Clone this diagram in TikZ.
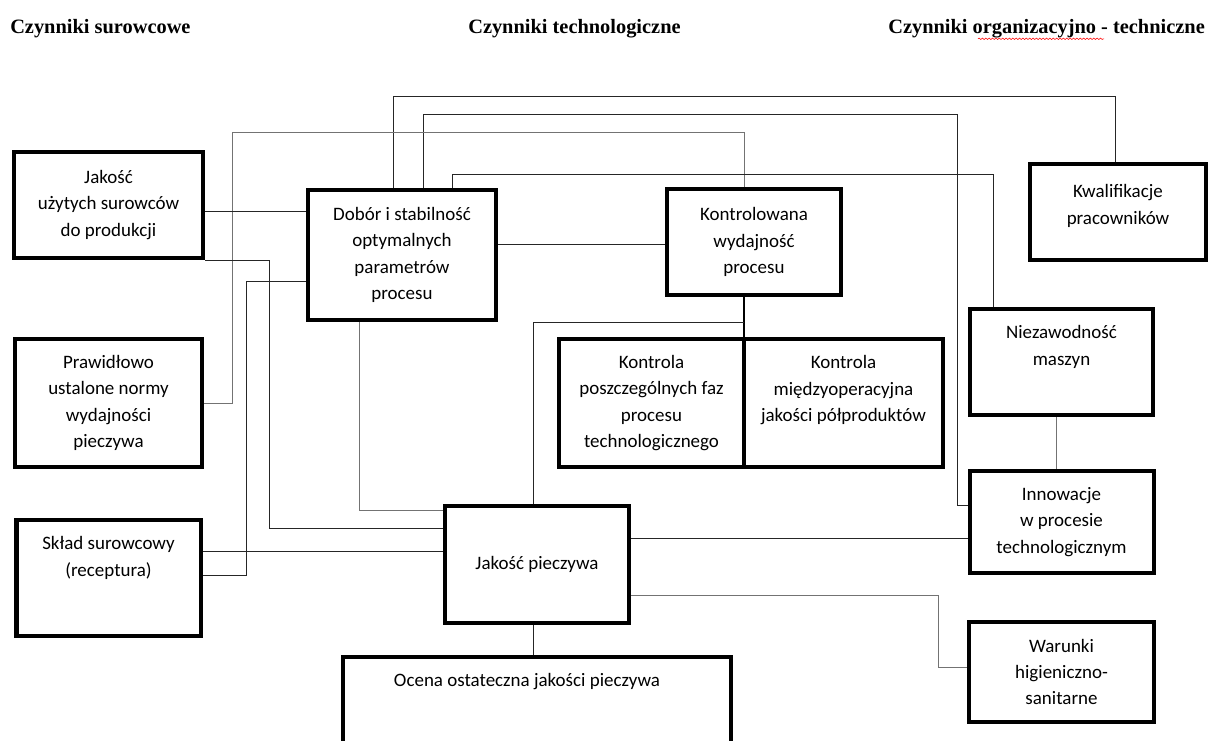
\documentclass[tikz,border=0pt]{standalone}
\usepackage{fontspec}
\setmainfont{Carlito}
\newfontfamily\headfont{Liberation Serif}
\usepackage{tikz}
\usetikzlibrary{positioning, decorations.pathmorphing}
\tikzstyle{factor} = [rectangle, draw=black, line width=0.1cm, align=center, inner sep=2pt, font={\fontsize{13.5}{18.8}\selectfont}]
\tikzstyle{toptext} = [anchor=north, align=center, yshift=-0.345cm, font={\fontsize{13.5}{18.8}\selectfont}]
\tikzstyle{heading} = [anchor=base west, inner sep=0pt, font={\headfont\bfseries\fontsize{14.5}{16}\selectfont}]
\tikzstyle{link} = [line width=0.7pt, draw=black!85]
\tikzstyle{greylink} = [line width=0.7pt, draw=black!55]
\tikzstyle{trunk} = [line width=1.6pt, draw=black]

\begin{document}
\begin{tikzpicture}
    \useasboundingbox (0,0) rectangle (30.4,-18.5);
    \clip (0,0) rectangle (30.4,-18.5);

    \node (dobor) [factor, minimum width=4.7cm, minimum height=3.25cm] at (10.05,-6.375) {Dobór i stabilność\\optymalnych\\parametrów\\procesu};
    \node (uzyte) [factor, minimum width=4.725cm, minimum height=2.65cm, left=2.525cm of dobor, yshift=1.25cm] {Jakość\\użytych surowców\\do produkcji};
    \node (normy) [factor, minimum width=4.675cm, minimum height=3.2cm, below=1.925cm of uzyte] {Prawidłowo\\ustalone normy\\wydajności\\pieczywa};
    \node (sklad) [factor, minimum width=4.6cm, minimum height=2.9cm, below=1.225cm of normy, label={[toptext]north:Skład surowcowy\\(receptura)}] {};
    \node (wydajnosc) [factor, minimum width=4.35cm, minimum height=2.65cm, right=4.175cm of dobor, yshift=0.325cm] {Kontrolowana\\wydajność\\procesu};
    \node (kwalif) [factor, minimum width=4.4cm, minimum height=2.4cm, right=4.625cm of wydajnosc, yshift=0.75cm, label={[toptext, yshift=-0.1cm]north:Kwalifikacje\\pracowników}] {};
    \node (fazy) [factor, minimum width=4.625cm, minimum height=3.2cm, below=1cm of wydajnosc, xshift=-2.5625cm] {Kontrola\\poszczególnych faz\\procesu\\technologicznego};
    \node (miedzyop) [factor, minimum width=4.975cm, minimum height=3.2cm, right=-0.1cm of fazy, label={[toptext]north:Kontrola\\międzyoperacyjna\\jakości półproduktów}] {};
    \node (maszyny) [factor, minimum width=4.575cm, minimum height=2.65cm, right=0.575cm of miedzyop, yshift=1.025cm, label={[toptext]north:Niezawodność\\maszyn}] {};
    \node (innowacje) [factor, minimum width=4.6cm, minimum height=2.55cm, below=1.3cm of maszyny] {Innowacje\\w procesie\\technologicznym};
    \node (warunki) [factor, minimum width=4.625cm, minimum height=2.5cm, below=1.125cm of innowacje] {Warunki\\higieniczno-\\sanitarne};
    \node (pieczywo) [factor, minimum width=4.6cm, minimum height=2.925cm, below=4.55cm of dobor, xshift=3.375cm] {Jakość pieczywa};
    \node (ocena) [factor, minimum width=9.7cm, minimum height=3.25cm, below=0.75cm of pieczywo, label={[toptext, xshift=-0.25cm]north:Ocena ostateczna jakości pieczywa}] {};

    \draw [link] ([xshift=-0.225cm]dobor.north) -- ++(0,2.3) -| ([xshift=-0.075cm]kwalif.north);
    \draw [link] ([xshift=0.525cm]dobor.north) -- ++(0,1.85) -- ++(13.35,0) |- ([yshift=0.425cm]innowacje.west);
    \draw [greylink] (normy.east) -- ++(0.7,0) -- ++(0,6.775) -| ([xshift=-0.25cm]wydajnosc.north);
    \draw [link] ([xshift=1.25cm]dobor.north) -- ++(0,0.35) -| ([xshift=-1.7125cm]maszyny.north);
    \draw [link] ([yshift=-0.15cm]uzyte.east) -- ([yshift=-0.15cm]uzyte.east -| dobor.west);
    \draw [link] (uzyte.south east) -- ++(1.6,0) |- ([yshift=0.9125cm]pieczywo.west);
    \draw [link] ([yshift=-0.65cm]dobor.west) -- ++(-1.5,0) |- ([yshift=0.075cm]sklad.east);
    \draw [link] ([yshift=0.675cm]sklad.east) -- ([yshift=0.675cm]sklad.east -| pieczywo.west);
    \draw [greylink] ([xshift=-1.075cm]dobor.south) |- ([yshift=1.3625cm]pieczywo.west);
    \draw [link] ([yshift=0.275cm]dobor.east) -- ([yshift=0.275cm]dobor.east -| wydajnosc.west);
    \draw [trunk] ([xshift=-0.25cm]wydajnosc.south) -- ([xshift=-0.25cm]wydajnosc.south |- fazy.north);
    \draw [link] ([xshift=-0.25cm, yshift=-0.625cm]wydajnosc.south) -| ([xshift=-0.1cm]pieczywo.north);
    \draw [link] ([yshift=0.6625cm]pieczywo.east) -- ([yshift=0.6625cm]pieczywo.east -| innowacje.west);
    \draw [greylink] ([yshift=-0.7625cm]pieczywo.east) -- ++(7.675,0) |- ([yshift=0.125cm]warunki.west);
    \draw [greylink] ([xshift=-0.1375cm]maszyny.south) -- ([xshift=-0.1375cm]maszyny.south |- innowacje.north);
    \draw [link] ([xshift=-0.1cm]pieczywo.south) -- ([xshift=-0.1cm]pieczywo.south |- ocena.north);

    \node (hsurowce) [heading] at (0.25,-0.825) {Czynniki surowcowe};
    \node (htechno) [heading] at (11.7,-0.825) {Czynniki technologiczne};
    \node (horgan) [heading] at (22.2,-0.825) {Czynniki organizacyjno - techniczne};
    \draw [red, line width=0.4pt, decorate, decoration={snake, amplitude=0.5pt, segment length=2.4pt}] (24.45,-0.97) -- (27.6,-0.97);
\end{tikzpicture}
\end{document}
